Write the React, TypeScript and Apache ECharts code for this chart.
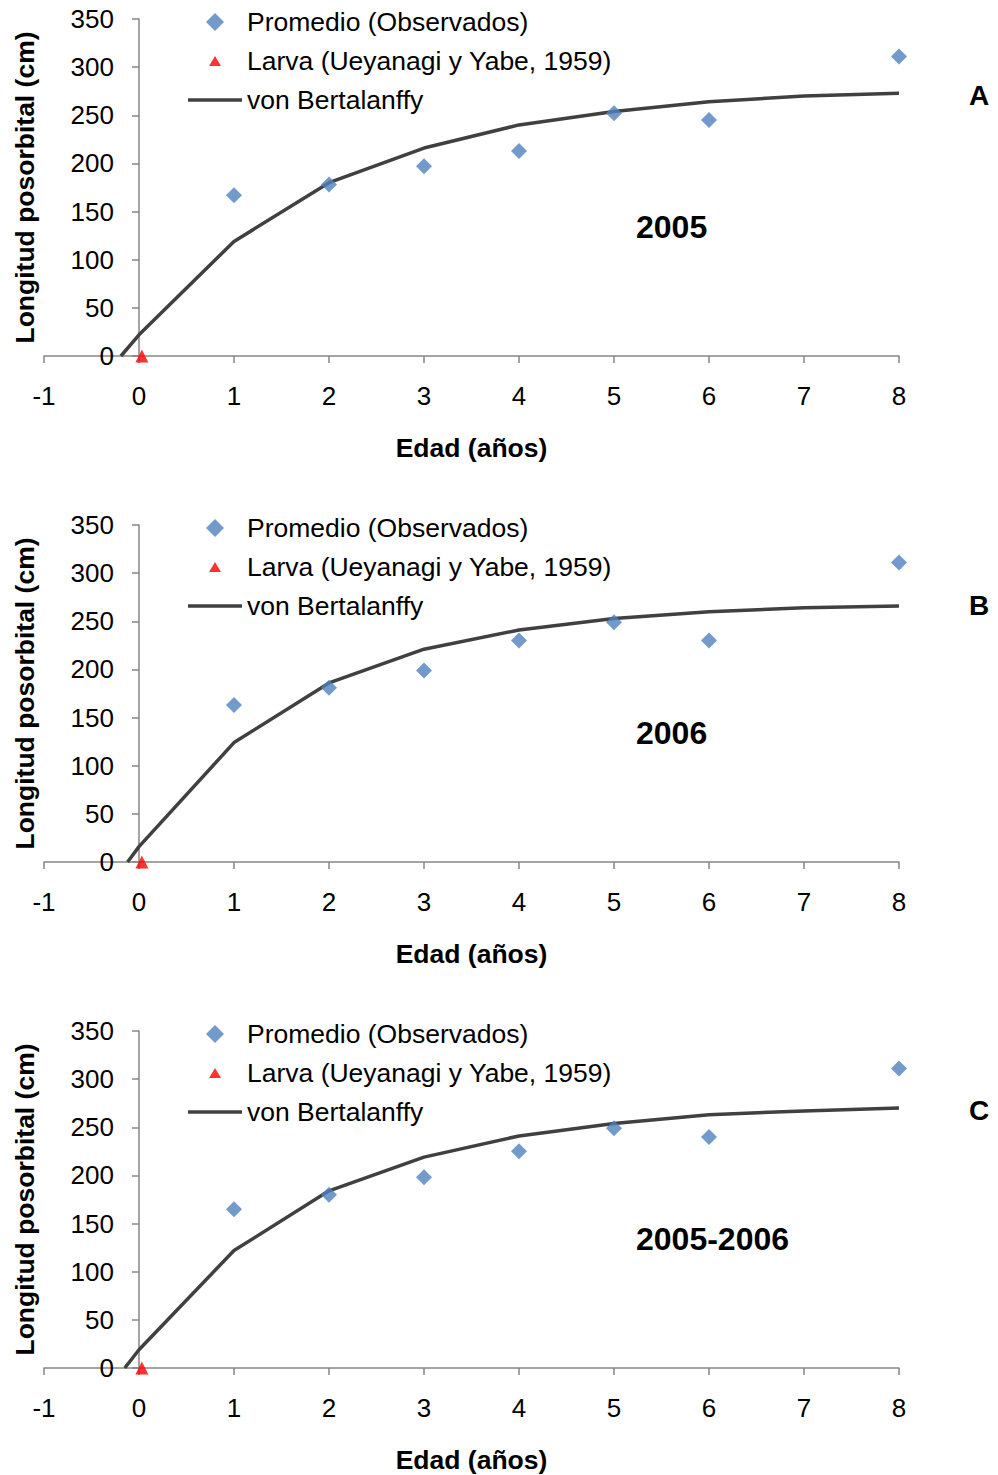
import React, { useEffect, useRef } from "react";
import * as echarts from "echarts";

// Observed mean lengths by age (years)
const obsAges = [1, 2, 3, 4, 5, 6, 8];
const obs2005 = [167, 178, 197, 213, 252, 245, 311];
const obs2006 = [163, 181, 199, 230, 249, 230, 311];
const obs0506 = [165, 180, 198, 225, 249, 240, 311];

// Larval reference point
const larvaAge = 0.03;
const larvaLength = 0;

// von Bertalanffy fitted curves: t0 followed by ages 0..8
const vbAges2005 = [-0.19, 0, 1, 2, 3, 4, 5, 6, 7, 8];
const vb2005 = [0, 22, 119, 180, 216, 240, 254, 264, 270, 273];
const vbAges2006 = [-0.12, 0, 1, 2, 3, 4, 5, 6, 7, 8];
const vb2006 = [0, 16, 124, 186, 221, 241, 253, 260, 264, 266];
const vbAges0506 = [-0.15, 0, 1, 2, 3, 4, 5, 6, 7, 8];
const vb0506 = [0, 19, 122, 184, 219, 241, 254, 263, 267, 270];

const panelYears = ["2005", "2006", "2005-2006"];
const panelLetters = ["A", "B", "C"];

const NAME_OBS = "Promedio (Observados)";
const NAME_LARVA = "Larva (Ueyanagi y Yabe, 1959)";
const NAME_VB = "von Bertalanffy";

const FONT = "'Liberation Sans', Arial, sans-serif";
const AXIS_COLOR = "#868686";
const LINE_COLOR = "#404040";

// Legend icons (the leading moves fix the icon's bounding box)
const ICON_DIAMOND = "path://M8,0 L16,8 L8,16 L0,8 Z";
const ICON_TRIANGLE = "path://M0,0 M18,18 M9,4 L15,14 L3,14 Z";
const ICON_LINE = "path://M0,0 H54 V3.5 H0 Z";

const pair = (xs: number[], ys: number[]) => xs.map((x, i) => [x, ys[i]]);

export default function App() {
  const ref = useRef<HTMLDivElement>(null);

  useEffect(() => {
    if (!ref.current) return;
    const chart = echarts.init(ref.current, null, { renderer: "svg" });

    const panels = [
      { obs: obs2005, vbX: vbAges2005, vb: vb2005 },
      { obs: obs2006, vbX: vbAges2006, vb: vb2006 },
      { obs: obs0506, vbX: vbAges0506, vb: vb0506 },
    ];
    const panelStep = 506;
    const gridTop = 19;
    const gridLeft = 44;

    const grid: any[] = [];
    const xAxis: any[] = [];
    const yAxis: any[] = [];
    const series: any[] = [];
    const legend: any[] = [];
    const graphic: any[] = [];

    panels.forEach((p, i) => {
      const top = gridTop + i * panelStep;
      grid.push({ left: gridLeft, right: 99, top, height: 337, containLabel: false, outerBoundsMode: "none" });
      xAxis.push({
        type: "value",
        gridIndex: i,
        min: -1,
        max: 8,
        interval: 1,
        name: "Edad (años)",
        nameLocation: "middle",
        nameGap: 78,
        nameTextStyle: { fontSize: 26.5, fontWeight: "bold", color: "#000", fontFamily: FONT },
        axisLine: { show: true, lineStyle: { color: AXIS_COLOR, width: 1.5 } },
        axisTick: { show: true, length: 7, lineStyle: { color: AXIS_COLOR, width: 1.5 } },
        axisLabel: { fontSize: 26, color: "#000", margin: 27, fontFamily: FONT, showMinLabel: true, showMaxLabel: true },
        splitLine: { show: false },
      });
      // The y axis line sits on x = 0; its labels and name are offset from the grid's left edge
      yAxis.push({
        type: "value",
        gridIndex: i,
        min: 0,
        max: 350,
        interval: 50,
        name: "Longitud posorbital (cm)",
        nameLocation: "middle",
        nameGap: 6,
        nameTextStyle: { fontSize: 26.5, fontWeight: "bold", color: "#000", fontFamily: FONT },
        axisLine: { show: true, onZero: true, lineStyle: { color: AXIS_COLOR, width: 1.5 } },
        axisTick: { show: true, length: 7, lineStyle: { color: AXIS_COLOR, width: 1.5 } },
        axisLabel: { fontSize: 26, color: "#000", margin: -70, fontFamily: FONT },
        splitLine: { show: false },
      });

      series.push({
        name: NAME_VB,
        type: "line",
        xAxisIndex: i,
        yAxisIndex: i,
        data: pair(p.vbX, p.vb),
        symbol: "none",
        clip: false,
        lineStyle: { color: LINE_COLOR, width: 3.5 },
        itemStyle: { color: LINE_COLOR },
        z: 2,
      });
      series.push({
        name: NAME_OBS,
        type: "scatter",
        xAxisIndex: i,
        yAxisIndex: i,
        data: pair(obsAges, p.obs),
        symbol: "diamond",
        symbolSize: 16,
        clip: false,
        itemStyle: { color: "#4F81BD" },
        z: 3,
      });
      series.push({
        name: NAME_LARVA,
        type: "scatter",
        xAxisIndex: i,
        yAxisIndex: i,
        data: [[larvaAge, larvaLength]],
        symbol: "triangle",
        symbolSize: 13,
        clip: false,
        itemStyle: { color: "#FF0000" },
        z: 4,
      });

      legend.push({
        data: [
          { name: NAME_OBS, icon: ICON_DIAMOND },
          { name: NAME_LARVA, icon: ICON_TRIANGLE },
          { name: NAME_VB, icon: ICON_LINE },
        ],
        orient: "vertical",
        left: 188,
        top: 7 + i * panelStep,
        itemWidth: 54,
        itemHeight: 18,
        itemGap: 9,
        padding: 0,
        symbolKeepAspect: true,
        textStyle: { fontSize: 26.5, color: "#000", fontFamily: FONT, lineHeight: 30 },
      });

      graphic.push({
        type: "text",
        left: 636,
        top: 229 - 18 + i * panelStep,
        style: { text: panelYears[i], font: `bold 32px ${FONT}`, fill: "#000" },
      });
      graphic.push({
        type: "text",
        left: 969,
        top: 97 - 16 + i * panelStep + (i === 1 ? 4 : 0) + (i === 2 ? 3 : 0),
        style: { text: panelLetters[i], font: `bold 28px ${FONT}`, fill: "#000" },
      });
    });

    chart.setOption({
      animation: false,
      textStyle: { fontFamily: FONT },
      grid,
      xAxis,
      yAxis,
      series,
      legend,
      graphic,
    });

    return () => chart.dispose();
  }, []);

  return (
    <div
      ref={ref}
      style={{ position: "absolute", left: 0, top: 0, width: 998, height: 1475, background: "#fff" }}
    />
  );
}
